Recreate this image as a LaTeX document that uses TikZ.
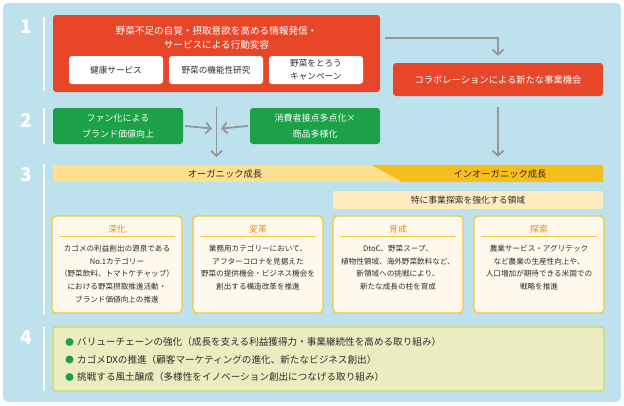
\documentclass[tikz,border=0pt]{standalone}
\usepackage{fontspec}
\setmainfont{Noto Sans CJK JP}
\usetikzlibrary{arrows.meta}

\definecolor{bgblue}{RGB}{190,225,238}
\definecolor{kred}{RGB}{232,70,40}
\definecolor{kgreen}{RGB}{28,160,72}
\definecolor{arrgray}{RGB}{150,150,150}
\definecolor{txtgray}{RGB}{45,45,45}
\definecolor{lightband}{RGB}{253,224,142}
\definecolor{darkband}{RGB}{246,190,28}
\definecolor{focuscream}{RGB}{254,236,192}
\definecolor{boxline}{RGB}{246,196,62}
\definecolor{boxfill}{RGB}{255,249,237}
\definecolor{boxtitle}{RGB}{232,140,30}
\definecolor{lastfill}{RGB}{235,237,192}
\definecolor{lastline}{RGB}{205,218,90}

\begin{document}
\begin{tikzpicture}[x=1pt,y=1pt,yscale=-1,
  secnum/.style={text=white,font=\fontsize{19}{19}\selectfont\bfseries,inner sep=0pt},
  secline/.style={draw=white,line width=2.2pt},
  redbox/.style={fill=kred,rounded corners=3pt,inner sep=0pt},
  whitebox/.style={fill=white,rounded corners=3pt,minimum width=94pt,minimum height=28pt,inner sep=0pt,text=txtgray,font=\fontsize{8.6}{13}\selectfont},
  greenbox/.style={fill=kgreen,rounded corners=3pt,minimum width=130pt,minimum height=36pt,inner sep=0pt,align=center,text=white,font=\fontsize{9}{16.4}\selectfont},
  arr/.style={draw=arrgray,line width=1.8pt,-{Straight Barb[length=5pt,width=11pt]}},
  bandtext/.style={text=txtgray,font=\fontsize{9.3}{12}\selectfont,inner sep=0pt},
  areabox/.style={draw=boxline,line width=1.4pt,fill=boxfill,rounded corners=4pt,minimum width=130pt,minimum height=97pt,inner sep=0pt},
  areatitle/.style={text=boxtitle,font=\fontsize{8.8}{12}\selectfont,inner sep=0pt},
  arearule/.style={draw=boxline,line width=0.8pt},
  areatext/.style={text=txtgray,align=center,inner sep=0pt,font=\fontsize{7.6}{12.7}\selectfont},
  dot/.style={circle,fill=kgreen,minimum size=8pt,inner sep=0pt},
  bullettext/.style={text=txtgray,anchor=west,inner sep=0pt,font=\fontsize{9.6}{12}\selectfont}]

% Background
\fill[white] (0,0) rectangle (624,405);
\fill[bgblue,rounded corners=5pt] (3,3) rectangle (621,402);

% Section numbers
\node[secnum] (one) at (26,27) {1};
\node[secnum] (two) at (26,120) {2};
\node[secnum] (three) at (26,175) {3};
\node[secnum] (four) at (26,338) {4};
\draw[secline] (44,17) -- (44,91);
\draw[secline] (44,108) -- (44,144);
\draw[secline] (44,164) -- (44,314);
\draw[secline] (44,327) -- (44,391);

% Section 1
\node[redbox,minimum width=327pt,minimum height=77pt] (info) at (216.5,53.5) {};
\node[text=white,align=center,inner sep=0pt,font=\fontsize{9.6}{14}\selectfont] (infotitle) at (216.5,37.5) {野菜不足の自覚・摂取意欲を高める情報発信・\\サービスによる行動変容};
\node[whitebox] (health) at (116,70) {健康サービス};
\node[whitebox] (function) at (216,70) {野菜の機能性研究};
\node[whitebox,align=left] (campaign) at (316,70) {野菜をとろう\\キャンペーン};
\node[redbox,minimum width=210pt,minimum height=33pt,text=white,font=\fontsize{9.3}{12}\selectfont] (collab) at (498,79.5) {コラボレーションによる新たな事業機会};

%Straight Lines
\draw[arr] ([xshift=5pt,yshift=-15.5pt]info.east) -| ([yshift=-7pt]collab.north);

% Section 2
\node[greenbox] (fan) at (118,126) {ファン化による\\ブランド価値向上};
\node[greenbox] (touch) at (315,126) {消費者接点多点化×\\商品多様化};
\coordinate (merge) at (216.5,128.5);
\coordinate (mtop) at (216.5,107);
\coordinate (mbot) at (216.5,157);
\draw[arr] ([xshift=2pt]fan.east) -- ([xshift=-4.5pt]merge);
\draw[arr] ([xshift=-2pt]touch.west) -- ([xshift=4.5pt]merge);
\draw[arr] (mtop) -- (mbot);

% Section 3
\node[fill=lightband,minimum width=550pt,minimum height=17pt,inner sep=0pt] (band) at (328,173.5) {};
\fill[darkband] (372,165) -- (band.north east) -- (band.south east) -- (402,182) -- cycle;
\draw[arr] ([yshift=11pt]collab.south) -- ([yshift=-8pt]collab.south |- band.north);
\node[bandtext] (organic) at (225,173.5) {オーガニック成長};
\node[bandtext] (inorganic) at (500,173.5) {インオーガニック成長};
\node[fill=focuscream,rounded corners=2pt,minimum width=270pt,minimum height=18pt,inner sep=0pt,text=txtgray,font=\fontsize{8.8}{12}\selectfont] (focus) at (468,200) {特に事業探索を強化する領域};

\node[areabox] (deepen) at (117,264.5) {};
\node[areatitle] (deepentitle) at ([yshift=14pt]deepen.north) {深化};
\draw[arearule] ([xshift=8pt,yshift=21pt]deepen.north west) -- ([xshift=-8pt,yshift=21pt]deepen.north east);
\node[areatext,anchor=north] (deepentext) at ([yshift=29.5pt]deepen.north) {カゴメの利益創出の源泉である\\No.1カテゴリー\\（野菜飲料、トマトケチャップ）\\における野菜摂取推進活動・\\ブランド価値向上の推進};

\node[areabox] (reform) at (258,264.5) {};
\node[areatitle] (reformtitle) at ([yshift=14pt]reform.north) {変革};
\draw[arearule] ([xshift=8pt,yshift=21pt]reform.north west) -- ([xshift=-8pt,yshift=21pt]reform.north east);
\node[areatext,anchor=north] (reformtext) at ([yshift=29.5pt]reform.north) {業務用カテゴリーにおいて、\\アフターコロナを見据えた\\野菜の提供機会・ビジネス機会を\\創出する構造改革を推進};

\node[areabox] (nurture) at (398,264.5) {};
\node[areatitle] (nurturetitle) at ([yshift=14pt]nurture.north) {育成};
\draw[arearule] ([xshift=8pt,yshift=21pt]nurture.north west) -- ([xshift=-8pt,yshift=21pt]nurture.north east);
\node[areatext,anchor=north] (nurturetext) at ([yshift=29.5pt]nurture.north) {DtoC、野菜スープ、\\植物性領域、海外野菜飲料など、\\新領域への挑戦により、\\新たな成長の柱を育成};

\node[areabox] (explore) at (539,264.5) {};
\node[areatitle] (exploretitle) at ([yshift=14pt]explore.north) {探索};
\draw[arearule] ([xshift=8pt,yshift=21pt]explore.north west) -- ([xshift=-8pt,yshift=21pt]explore.north east);
\node[areatext,anchor=north] (exploretext) at ([yshift=29.5pt]explore.north) {農業サービス・アグリテック\\など農業の生産性向上や、\\人口増加が期待できる米国での\\戦略を推進};

% Section 4
\node[fill=lastfill,draw=lastline,line width=1.2pt,rounded corners=3pt,minimum width=551pt,minimum height=64pt,inner sep=0pt] (base) at (328.5,359) {};
\node[dot] (valuedot) at (69.5,342) {};
\node[bullettext] (value) at (77,342) {バリューチェーンの強化（成長を支える利益獲得力・事業継続性を高める取り組み）};
\node[dot] (dxdot) at (69.5,359.5) {};
\node[bullettext] (dx) at (77,359.5) {カゴメDXの推進（顧客マーケティングの進化、新たなビジネス創出）};
\node[dot] (culturedot) at (69.5,377) {};
\node[bullettext] (culture) at (77,377) {挑戦する風土醸成（多様性をイノベーション創出につなげる取り組み）};

\end{tikzpicture}
\end{document}
